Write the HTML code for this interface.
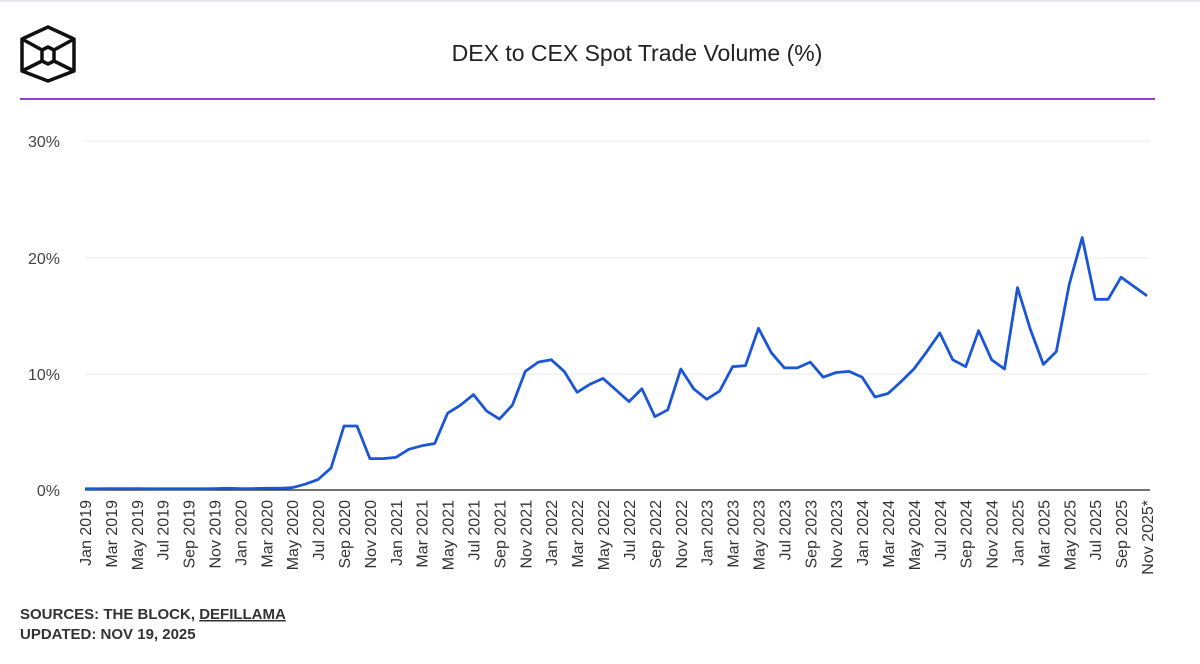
<!DOCTYPE html>
<html><head><meta charset="utf-8"><style>
html,body{margin:0;padding:0;background:#fff;}
body{width:1200px;height:659px;overflow:hidden;font-family:"Liberation Sans",sans-serif;}
</style></head><body>
<svg id="c" width="1200" height="659" xmlns="http://www.w3.org/2000/svg" font-family="Liberation Sans, sans-serif">
<rect x="0" y="0" width="1200" height="2" fill="#e6e6ea"/>
<g fill="none" stroke="#111" stroke-width="3.5" stroke-linejoin="round">
<polygon points="48,27 74,39 74,71 48,81 22,71 22,39"/>
<line x1="22" y1="39" x2="42" y2="50"/><line x1="74" y1="39" x2="54" y2="50"/>
<line x1="22" y1="71" x2="42" y2="61"/><line x1="74" y1="71" x2="54" y2="61"/>
<polygon points="48,47 54,50 54,61 48,64 42,61 42,50"/>
</g>
<text x="637" y="61" font-size="23" text-anchor="middle" fill="#222">DEX to CEX Spot Trade Volume (%)</text>
<rect x="20" y="98" width="1135" height="2" fill="#9b3fd0"/>
<g stroke="#e8e8e8" stroke-width="1">
<line x1="85" y1="141" x2="1150" y2="141"/><line x1="85" y1="258" x2="1150" y2="258"/><line x1="85" y1="374" x2="1150" y2="374"/>
</g>
<line x1="85" y1="490" x2="1150" y2="490" stroke="#222" stroke-width="1.2"/>
<g font-size="16" fill="#444" text-anchor="end">
<text x="60" y="147">30%</text><text x="60" y="264">20%</text><text x="60" y="380">10%</text><text x="60" y="496">0%</text>
</g>
<g id="xl" font-size="16" fill="#333"></g>
<polyline id="ln" fill="none" stroke="#1a56d6" stroke-width="2.8" stroke-linejoin="round"/>
<text x="20" y="619" font-size="15" font-weight="bold" fill="#333">SOURCES: THE BLOCK, <tspan text-decoration="underline">DEFILLAMA</tspan></text>
<text x="20" y="639" font-size="15" font-weight="bold" fill="#333">UPDATED: NOV 19, 2025</text>
</svg>
<script>
var d=[0.1,0.1,0.12,0.12,0.12,0.1,0.1,0.1,0.1,0.1,0.12,0.15,0.12,0.12,0.15,0.15,0.2,0.5,0.9,1.9,5.5,5.5,2.7,2.7,2.8,3.5,3.8,4.0,6.6,7.3,8.2,6.8,6.1,7.3,10.2,11.0,11.2,10.2,8.4,9.1,9.6,8.6,7.6,8.7,6.3,6.9,10.4,8.7,7.8,8.5,10.6,10.7,13.9,11.8,10.5,10.5,11.0,9.7,10.1,10.2,9.7,8.0,8.3,9.3,10.4,11.9,13.5,11.2,10.6,13.7,11.2,10.4,17.4,13.8,10.8,11.9,17.7,21.7,16.4,16.4,18.3,17.5,16.7];
var st=1062/82,p=[];
for(var i=0;i<d.length;i++)p.push((85+i*st).toFixed(1)+","+(490-d[i]*11.63).toFixed(1));
document.getElementById('ln').setAttribute('points',p.join(' '));
var m=["Jan","Mar","May","Jul","Sep","Nov"],g=document.getElementById('xl'),h="";
for(var k=0;k<42;k++){var y=2019+Math.floor(k/6),lab=m[k%6]+" "+y+(k==41?"*":"");var x=85+k*2*st+6;
h+='<text transform="translate('+x.toFixed(1)+',500) rotate(-90)" text-anchor="end">'+lab+'</text>';}
g.innerHTML=h;
</script>
</body></html>
